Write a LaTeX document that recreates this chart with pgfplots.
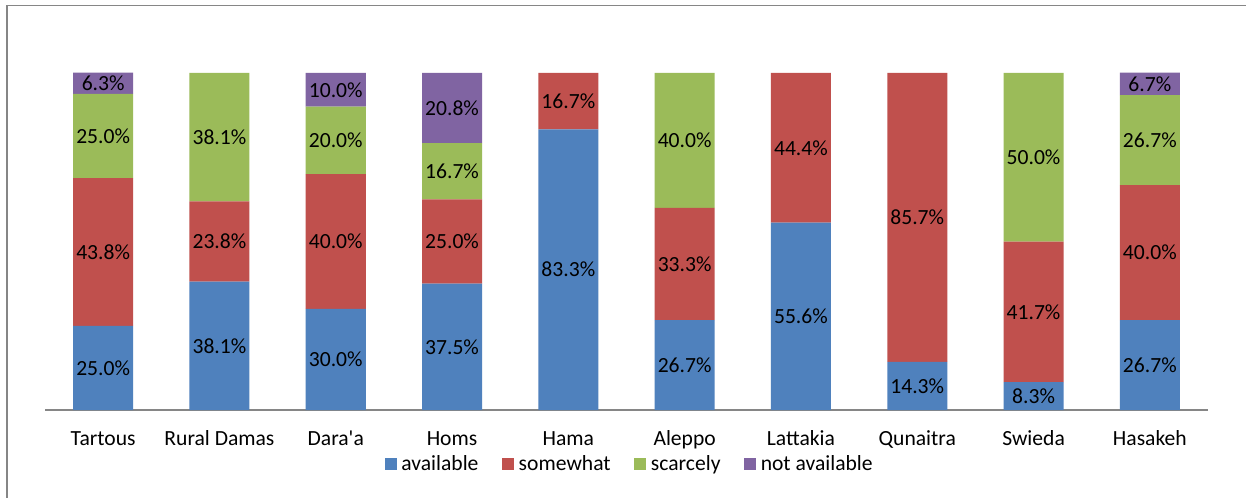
\documentclass[border=0pt]{standalone}
\usepackage{fontspec}
\setmainfont{Carlito}
\usepackage{pgfplots}
\pgfplotsset{compat=1.18}
\definecolor{cA}{HTML}{4F81BD}
\definecolor{cB}{HTML}{C0504D}
\definecolor{cC}{HTML}{9BBB59}
\definecolor{cD}{HTML}{8064A2}
\definecolor{axisgray}{HTML}{868686}
\definecolor{framegray}{HTML}{868686}
\newcommand{\lbl}{\fontsize{16.2pt}{19.5pt}\selectfont}
\begin{document}
\begin{tikzpicture}
\useasboundingbox (0,0) rectangle (934.5pt,372.75pt);
\fill[white] (0,0) rectangle (934.5pt,372.75pt);
\draw[color=framegray, line width=1.2pt] (5.25pt,-20pt) -- (5.25pt,368.6pt) -- (960pt,368.6pt);
\begin{axis}[
  at={(33.75pt,65.25pt)}, anchor=south west,
  scale only axis, width=872.25pt, height=252.75pt,
  ybar stacked, bar width=0.516,
  xmin=-0.5, xmax=9.5, ymin=0, ymax=100,
  axis x line*=bottom, axis y line=none,
  x axis line style={color=axisgray, line width=1.5pt},
  xtick={0,...,9},
  xticklabels={Tartous,Rural Damas,Dara\textquotesingle a,Homs,Hama,Aleppo,Lattakia,Qunaitra,Swieda,Hasakeh},
  major tick length=0pt,
  xticklabel style={font=\lbl, anchor=base, yshift=-26.25pt},
  clip=false,
  legend columns=-1,
  legend style={at={(0.5039,-0.1602)}, anchor=center, draw=none, fill=none, font=\lbl,
    /tikz/every even column/.append style={column sep=14pt},
    nodes={inner xsep=3.6pt}},
  legend image code/.code={\fill[#1] (0pt,-4.5pt) rectangle (9pt,4.5pt);},
]
\addplot[fill=cA, draw=none] coordinates {(0,25.0) (1,38.1) (2,30.0) (3,37.5) (4,83.3) (5,26.7) (6,55.6) (7,14.3) (8,8.3) (9,26.7)};
\addplot[fill=cB, draw=none] coordinates {(0,43.8) (1,23.8) (2,40.0) (3,25.0) (4,16.7) (5,33.3) (6,44.4) (7,85.7) (8,41.7) (9,40.0)};
\addplot[fill=cC, draw=none] coordinates {(0,25.0) (1,38.1) (2,20.0) (3,16.7) (4,0) (5,40.0) (6,0) (7,0) (8,50.0) (9,26.7)};
\addplot[fill=cD, draw=none] coordinates {(0,6.3) (1,0) (2,10.0) (3,20.8) (4,0) (5,0) (6,0) (7,0) (8,0) (9,6.7)};
\legend{available,somewhat,scarcely,not available}
\end{axis}
\begin{axis}[
  at={(33.75pt,65.25pt)}, anchor=south west,
  scale only axis, width=872.25pt, height=252.75pt,
  xmin=-0.5, xmax=9.5, ymin=0, ymax=100,
  hide axis, clip=false,
]
\addplot[only marks, mark=none, nodes near coords={\pgfplotspointmeta}, point meta=explicit symbolic,
  every node near coord/.style={anchor=center, font=\lbl, inner sep=0pt, text=black}] coordinates {
  (0,12.5) [25.0\%] (0,46.9) [43.8\%] (0,81.3) [25.0\%] (0,96.95) [6.3\%]
  (1,19.05) [38.1\%] (1,50.0) [23.8\%] (1,80.95) [38.1\%]
  (2,15) [30.0\%] (2,50) [40.0\%] (2,80) [20.0\%] (2,95) [10.0\%]
  (3,18.75) [37.5\%] (3,50) [25.0\%] (3,70.85) [16.7\%] (3,89.6) [20.8\%]
  (4,41.65) [83.3\%] (4,91.65) [16.7\%]
  (5,13.35) [26.7\%] (5,43.35) [33.3\%] (5,80) [40.0\%]
  (6,27.8) [55.6\%] (6,77.8) [44.4\%]
  (7,7.15) [14.3\%] (7,57.15) [85.7\%]
  (8,4.15) [8.3\%] (8,29.15) [41.7\%] (8,75) [50.0\%]
  (9,13.35) [26.7\%] (9,46.7) [40.0\%] (9,80.05) [26.7\%] (9,96.75) [6.7\%]
};
\end{axis}
\end{tikzpicture}
\end{document}
